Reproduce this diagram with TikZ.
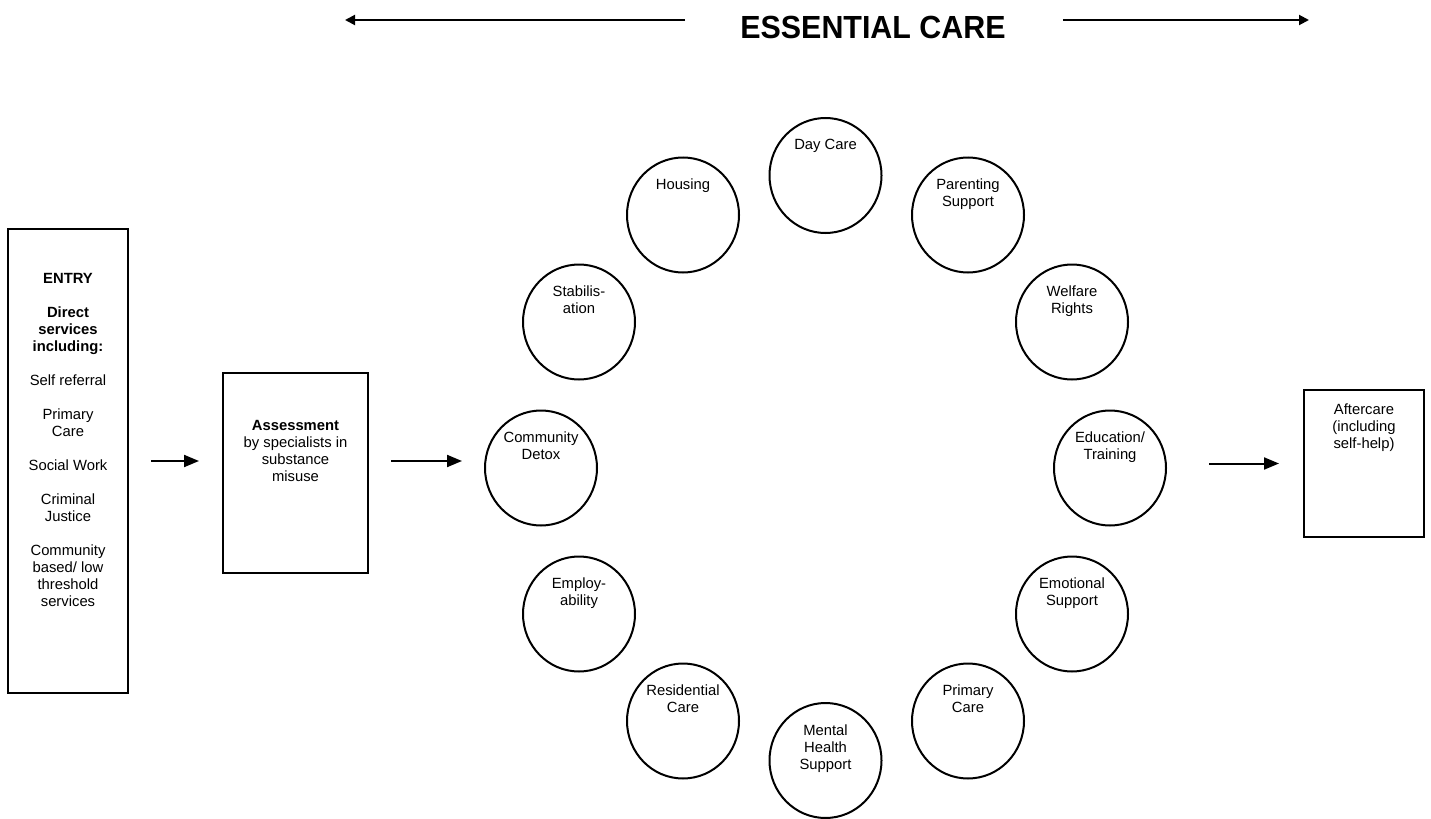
\documentclass[tikz,border=0pt]{standalone}
\usepackage{fontspec}
\setmainfont{Liberation Sans}
\usepackage{tikz}
\usetikzlibrary{arrows.meta, positioning, shapes.geometric}
\tikzset{
  box/.style={
    rectangle, draw, line width=1pt, inner sep=0pt
  },
  care/.style={
    ellipse, draw, line width=1pt,
    minimum width=56pt, minimum height=57.5pt, inner sep=0pt
  },
  txt/.style={font=\fontsize{7.4}{8.5}\selectfont, align=center, inner sep=0pt},
  arr/.style={-{Triangle[length=7.5pt, width=6pt]}, line width=1pt},
  topArr/.style={-{Triangle[length=5pt, width=5pt]}, line width=1pt},
}

\begin{document}
\begin{tikzpicture}[x=0.5pt, y=-0.5pt]
\useasboundingbox (0,0) rectangle (1431,819);

% heading with arrows either side
\node[font=\bfseries\fontsize{16}{16}\selectfont, xscale=0.95, inner sep=0pt] at (873,27) (title) {ESSENTIAL CARE};
\coordinate (leftend) at (345,20);
\coordinate (rightend) at (1309,20);
\draw[topArr, shorten <=27.5pt] (title.west |- leftend) -- (leftend);
\draw[topArr, shorten <=28.5pt] (title.east |- rightend) -- (rightend);

% entry, assessment and aftercare boxes
\node[box, minimum width=60pt, minimum height=232pt,
  label={[txt, anchor=north, yshift=-22.3pt]north:{\textbf{ENTRY}\\[8.5pt]
    \textbf{Direct}\\ \textbf{services}\\ \textbf{including:}\\[8.5pt]
    Self referral\\[8.5pt] Primary\\ Care\\[8.5pt] Social Work\\[8.5pt]
    Criminal\\ Justice\\[8.5pt] Community\\ based/ low\\ threshold\\ services}}]
  at (68,461) (entry) {};
\node[box, minimum width=72.5pt, minimum height=100pt,
  label={[txt, anchor=north, yshift=-24pt]north:{\textbf{Assessment}\\ by specialists in\\ substance\\ misuse}}]
  at (295.5,473) (assess) {};
\node[box, minimum width=60pt, minimum height=73.5pt,
  label={[txt, anchor=north, yshift=-7.3pt]north:{Aftercare\\ (including\\ self-help)}}]
  at (1364,463.5) (after) {};

% ring of essential care services
\node[care, label={[txt, anchor=north, yshift=-11pt]north:{Day Care}}] at (825.5,175.5) (daycare) {};
\node[care, label={[txt, anchor=north, yshift=-11pt]north:{Parenting\\ Support}}] at (968,215) (parenting) {};
\node[care, label={[txt, anchor=north, yshift=-11pt]north:{Welfare\\ Rights}}] at (1072,322) (welfare) {};
\node[care, label={[txt, anchor=north, yshift=-11pt]north:{Education/\\ Training}}] at (1110,468) (education) {};
\node[care, label={[txt, anchor=north, yshift=-11pt]north:{Emotional\\ Support}}] at (1072,614) (emotional) {};
\node[care, label={[txt, anchor=north, yshift=-11pt]north:{Primary\\ Care}}] at (968,721) (primary) {};
\node[care, label={[txt, anchor=north, yshift=-11pt]north:{Mental\\ Health\\ Support}}] at (825.5,760.5) (mental) {};
\node[care, label={[txt, anchor=north, yshift=-11pt]north:{Residential\\ Care}}] at (683,721) (residential) {};
\node[care, label={[txt, anchor=north, yshift=-11pt]north:{Employ-\\ ability}}] at (579,614) (employ) {};
\node[care, label={[txt, anchor=north, yshift=-11pt]north:{Community\\ Detox}}] at (541,468) (detox) {};
\node[care, label={[txt, anchor=north, yshift=-11pt]north:{Stabilis-\\ ation}}] at (579,322) (stabil) {};
\node[care, label={[txt, anchor=north, yshift=-11pt]north:{Housing}}] at (683,215) (housing) {};

% flow arrows
\draw[arr, shorten <=11pt, shorten >=11.5pt] (entry.east) -- (entry.east -| assess.west);
\draw[arr, shorten <=11pt, shorten >=11pt] (assess.east |- entry.east) -- (detox.west |- entry.east);
\draw[arr, shorten <=21pt, shorten >=12pt] (education.east |- after.west) -- (after.west);

\end{tikzpicture}
\end{document}
